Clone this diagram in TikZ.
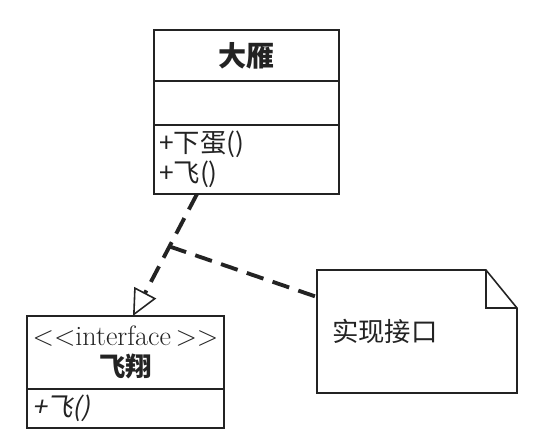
\documentclass[tikz,border=0pt]{standalone}
\usepackage{fontspec}
\usetikzlibrary{arrows.meta, positioning}
\newfontfamily\cjk{Noto Sans CJK SC}
\newfontfamily\cjkslant[FakeSlant=0.2]{Noto Sans CJK SC}
\definecolor{ink}{RGB}{35, 35, 35}
\tikzset{
    part/.style={draw=ink, line width=0.9pt, fill=white, outer sep=0pt, inner xsep=0.1cm, text=ink, font=\fontsize{15}{17}\selectfont\cjk},
    titlepart/.style={part, align=center},
    oppart/.style={part, align=left},
    notebox/.style={outer sep=0pt, inner xsep=0.3cm, align=left, text=ink, font=\fontsize{15}{18}\selectfont\cjk},
    realize/.style={ink, line width=2.2pt, dash pattern=on 10pt off 5.5pt},
    hollow/.style={-{Triangle[open, length=15pt, width=14pt, line width=0.9pt]}}
}

\begin{document}
\begin{tikzpicture}[x=0.02cm, y=-0.02cm]
    \useasboundingbox (0,0) rectangle (534,446);

    % Class: 大雁
    \node[titlepart, minimum width=3.7cm, minimum height=1.02cm] (dayan) at (246.5,55.5) {\fontsize{16}{18}\selectfont\bfseries 大雁};
    \node[part, minimum width=3.7cm, minimum height=0.88cm, below=0pt of dayan] (dayan-attr) {};
    \node[oppart, text width=3.5cm, minimum height=1.38cm, below=0pt of dayan-attr] (dayan-ops) {+下蛋()\\+飞()};

    % Interface: 飞翔
    \node[titlepart, minimum width=3.94cm, minimum height=1.46cm] (feixiang) at (125.5,352.5)
        {{\rmfamily\mdseries\fontsize{16}{18}\selectfont {<}{<}interface\,{>}{>}}\\[1pt] \bfseries 飞翔};
    \node[oppart, text width=3.74cm, minimum height=0.78cm, below=0pt of feixiang] (feixiang-ops) {\cjkslant +飞()};

    % Note
    \node[notebox, text width=3.4cm, minimum height=2.46cm] (note) at (417,331.5) {实现接口};
    \draw[ink, line width=0.9pt] (note.north west) -- ([xshift=-0.62cm]note.north east)
        -- ([yshift=-0.76cm]note.north east) -- (note.south east) -- (note.south west) -- cycle;
    \draw[ink, line width=0.7pt] ([xshift=-0.62cm]note.north east) |- ([yshift=-0.76cm]note.north east);

    % Realization
    \draw[realize, hollow] ([xshift=-0.99cm]dayan-ops.south) -- coordinate[pos=0.43] (junc) ([xshift=0.15cm]feixiang.north);
    \draw[realize] (junc) -- ([yshift=0.69cm]note.west);
\end{tikzpicture}
\end{document}
